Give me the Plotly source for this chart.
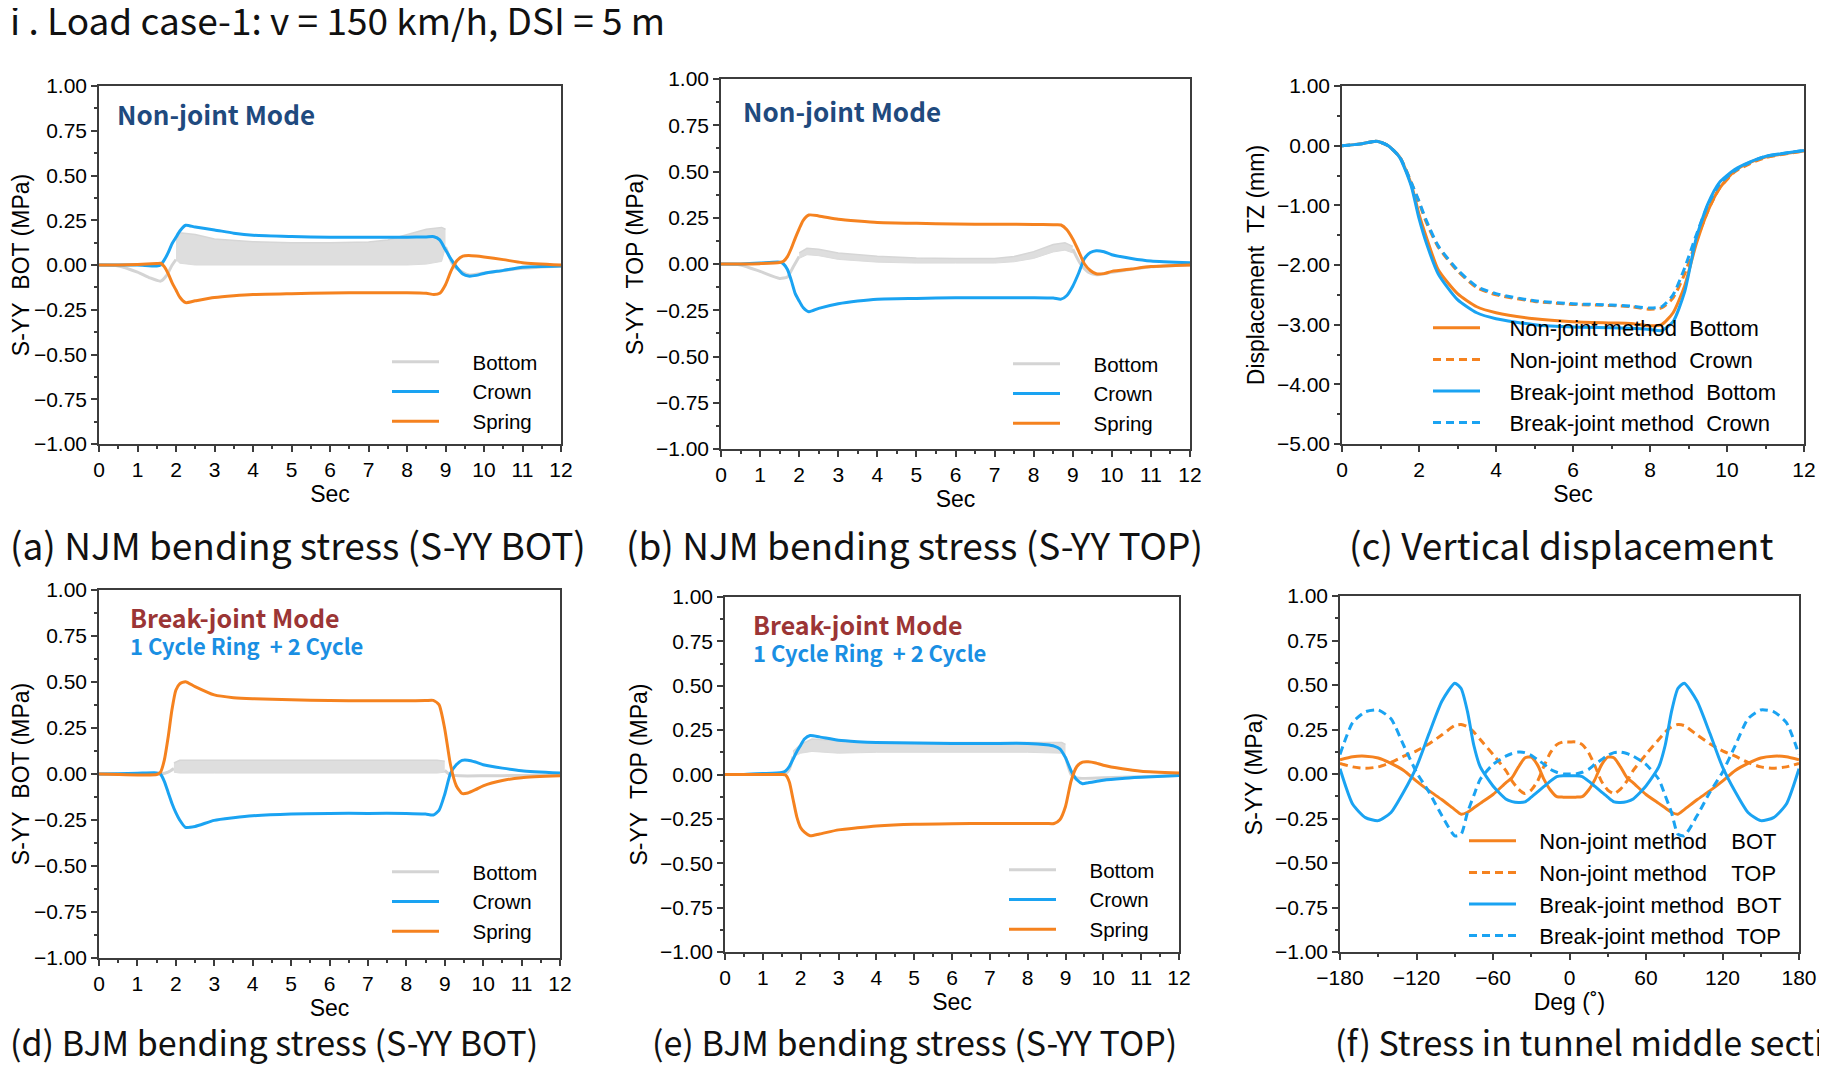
import plotly.graph_objects as go
from plotly.subplots import make_subplots

W, H = 1827, 1077
OFF = 8                      # page body margin of the browser
FW, FH = W - 2 * OFF, H - 2 * OFF

BLUE = '#1AA3F2'
ORANGE = '#F5821F'
GRAY = '#D4D4D4'
AXC = '#3c3c3c'
TICKFONT = 'Liberation Sans, Arial, sans-serif'
KFONT = 'Noto Sans CJK KR, Noto Sans, sans-serif'

# ---- stress panels (a, b, d, e): common time grid ----
T_S = [0, 0.5, 1.0, 1.5, 1.6, 1.7, 1.8, 1.9, 2.0, 2.1, 2.25, 2.5, 3.0, 3.5, 4.0, 5.0,
       6.0, 7.0, 8.0, 8.5, 8.7, 8.85, 9.0, 9.15, 9.3, 9.45, 9.6, 9.8, 10.0, 10.5, 11.0, 12.0]

a_crown = [0, 0, 0, -0.005, 0.0, 0.03, 0.07, 0.12, 0.155, 0.19, 0.222, 0.212, 0.196, 0.178, 0.166, 0.159,
           0.155, 0.155, 0.155, 0.157, 0.158, 0.14, 0.085, 0.03, -0.015, -0.05, -0.062, -0.058, -0.047, -0.03, -0.012, -0.005]
a_spring = [0, 0.0, 0.003, 0.008, 0.01, -0.01, -0.05, -0.1, -0.14, -0.18, -0.21, -0.2, -0.182, -0.172, -0.165, -0.16,
            -0.156, -0.155, -0.155, -0.158, -0.165, -0.158, -0.11, -0.03, 0.025, 0.05, 0.053, 0.05, 0.045, 0.03, 0.013, 0.0]
a_bot_pre_t = [0, 0.5, 1.0, 1.3, 1.6, 1.75, 1.9, 2.0]
a_bot_pre = [0, -0.005, -0.04, -0.07, -0.09, -0.06, 0.0, 0.03]
a_band_t = [2.0, 2.1, 2.5, 3.0, 4.0, 5.0, 6.0, 7.0, 7.5, 8.0, 8.5, 8.9, 9.0]
a_band_hi = [0.14, 0.18, 0.17, 0.145, 0.13, 0.125, 0.125, 0.128, 0.14, 0.17, 0.2, 0.21, 0.2]
a_band_lo = [0.03, 0.01, 0.0, 0.0, 0.0, 0.0, 0.0, 0.0, 0.0, 0.0, 0.005, 0.02, 0.1]
a_bot_post_t = [9.0, 9.2, 9.4, 9.6, 10.0, 11.0, 12.0]
a_bot_post = [0.1, 0.0, -0.035, -0.055, -0.045, -0.018, -0.005]

b_crown = [0, 0, 0.005, 0.01, 0.0, -0.03, -0.09, -0.16, -0.2, -0.235, -0.258, -0.24, -0.215, -0.2, -0.19, -0.186,
           -0.183, -0.182, -0.182, -0.184, -0.19, -0.17, -0.12, -0.05, 0.03, 0.062, 0.072, 0.066, 0.05, 0.03, 0.016, 0.007]
b_spring = [0, 0, 0.002, 0.008, 0.015, 0.04, 0.085, 0.14, 0.19, 0.235, 0.265, 0.26, 0.242, 0.232, 0.224, 0.22,
            0.216, 0.215, 0.214, 0.212, 0.211, 0.185, 0.135, 0.07, 0.0, -0.035, -0.053, -0.052, -0.04, -0.027, -0.014, -0.005]
b_bot_pre_t = [0, 0.5, 1.0, 1.5, 1.7, 1.85, 2.0]
b_bot_pre = [0, -0.005, -0.04, -0.078, -0.07, -0.015, 0.04]
b_band_t = [2.0, 2.2, 2.5, 3.0, 4.0, 5.0, 6.0, 7.0, 7.5, 8.0, 8.5, 8.8, 9.0]
b_band_hi = [0.06, 0.085, 0.08, 0.06, 0.042, 0.033, 0.03, 0.03, 0.04, 0.067, 0.105, 0.115, 0.095]
b_band_lo = [0.03, 0.05, 0.045, 0.025, 0.01, 0.005, 0.005, 0.005, 0.012, 0.03, 0.065, 0.075, 0.06]
b_bot_post_t = [9.0, 9.2, 9.4, 9.6, 10.0, 11.0, 12.0]
b_bot_post = [0.08, 0.0, -0.045, -0.058, -0.045, -0.015, -0.005]

d_crown = [0, 0.002, 0.004, 0.006, 0.0, -0.04, -0.1, -0.16, -0.21, -0.25, -0.29, -0.285, -0.252, -0.238, -0.227, -0.217,
           -0.214, -0.214, -0.214, -0.218, -0.223, -0.198, -0.11, 0.003, 0.05, 0.074, 0.075, 0.065, 0.05, 0.032, 0.018, 0.005]
d_spring = [0, -0.003, -0.005, -0.003, 0.01, 0.075, 0.2, 0.35, 0.455, 0.49, 0.502, 0.475, 0.43, 0.415, 0.409, 0.404,
            0.399, 0.398, 0.398, 0.399, 0.4, 0.377, 0.245, 0.05, -0.064, -0.106, -0.103, -0.085, -0.064, -0.035, -0.02, -0.01]
d_bot_pre_t = [0, 1.0, 1.6, 1.8, 1.95]
d_bot_pre = [0, 0, 0.0, 0.01, 0.03]
d_band_t = [1.95, 2.1, 3.0, 4.0, 5.0, 6.0, 7.0, 8.0, 8.8, 9.0]
d_band_hi = [0.06, 0.075, 0.075, 0.075, 0.075, 0.075, 0.075, 0.075, 0.075, 0.07]
d_band_lo = [0.01, 0.005, 0.005, 0.005, 0.005, 0.005, 0.005, 0.005, 0.005, 0.01]
d_bot_post_t = [9.0, 9.15, 9.4, 10.0, 11.0, 12.0]
d_bot_post = [0.02, -0.005, -0.01, -0.01, -0.008, -0.005]

e_crown = [0, 0, 0.005, 0.012, 0.02, 0.045, 0.087, 0.13, 0.165, 0.2, 0.22, 0.212, 0.193, 0.185, 0.18, 0.177,
           0.175, 0.175, 0.175, 0.167, 0.16, 0.145, 0.095, 0.02, -0.03, -0.052, -0.046, -0.04, -0.032, -0.022, -0.016, -0.006]
e_spring = [0, 0, 0, 0, -0.003, -0.042, -0.141, -0.24, -0.3, -0.325, -0.345, -0.335, -0.312, -0.3, -0.29, -0.28,
            -0.277, -0.276, -0.276, -0.276, -0.276, -0.255, -0.18, -0.035, 0.045, 0.07, 0.072, 0.065, 0.052, 0.032, 0.018, 0.008]
e_bot_pre_t = [0, 1.0, 1.6, 1.7, 1.8]
e_bot_pre = [0, 0, 0.005, 0.03, 0.1]
e_band_t = [1.8, 2.0, 2.3, 3.0, 4.0, 5.0, 6.0, 7.0, 8.0, 8.9, 9.0]
e_band_hi = [0.13, 0.17, 0.2, 0.19, 0.18, 0.18, 0.18, 0.18, 0.18, 0.18, 0.17]
e_band_lo = [0.1, 0.12, 0.13, 0.12, 0.125, 0.125, 0.125, 0.125, 0.125, 0.12, 0.1]
e_bot_post_t = [9.0, 9.15, 9.3, 10.0, 11.0, 12.0]
e_bot_post = [0.1, 0.0, -0.02, -0.018, -0.012, -0.005]

# ---- (c) vertical displacement ----
T_C = [0, 0.5, 0.9, 1.2, 1.5, 1.8, 2.0, 2.2, 2.5, 3.0, 3.5, 4.0, 5.0, 6.0, 7.0, 7.5, 8.0, 8.3, 8.6,
       8.9, 9.2, 9.5, 9.8, 10.2, 10.6, 11.0, 12.0]
c_njm_bot = [0, 0.03, 0.075, 0.0, -0.19, -0.65, -1.15, -1.55, -2.08, -2.48, -2.7, -2.8, -2.9, -2.95, -2.97, -2.98,
             -3.02, -3.0, -2.8, -2.35, -1.65, -1.1, -0.72, -0.42, -0.28, -0.19, -0.09]
c_njm_crown = [0, 0.03, 0.075, 0.0, -0.19, -0.62, -0.95, -1.3, -1.7, -2.1, -2.38, -2.5, -2.61, -2.66, -2.68, -2.7,
               -2.74, -2.72, -2.55, -2.15, -1.6, -1.1, -0.72, -0.44, -0.3, -0.2, -0.09]
c_bjm_bot = [0, 0.03, 0.075, 0.0, -0.2, -0.68, -1.22, -1.65, -2.15, -2.58, -2.8, -2.9, -3.0, -3.04, -3.05, -3.06,
             -3.08, -3.1, -2.95, -2.45, -1.55, -0.98, -0.62, -0.4, -0.27, -0.18, -0.08]
c_bjm_crown = [0, 0.03, 0.075, 0.0, -0.19, -0.62, -0.93, -1.27, -1.68, -2.08, -2.36, -2.48, -2.6, -2.65, -2.67, -2.69,
               -2.72, -2.7, -2.5, -2.05, -1.5, -1.0, -0.65, -0.42, -0.28, -0.18, -0.08]

# ---- (f) stress around the middle section ----
DEG = [-180, -170, -160, -150, -140, -130, -120, -110, -100, -90, -85, -80, -75, -70, -60, -50, -45, -40, -35,
       -30, -25, -20, -15, -10, -5, 0, 5, 10, 15, 20, 25, 30, 35, 40, 45, 50, 60, 70, 75, 80, 85, 90, 100,
       110, 120, 130, 140, 150, 160, 170, 180]
f_njm_bot = [0.08, 0.097, 0.10, 0.09, 0.06, 0.02, -0.04, -0.095, -0.145, -0.2, -0.226, -0.215, -0.19, -0.165, -0.115,
             -0.05, -0.02, 0.04, 0.09, 0.095, 0.05, -0.03, -0.09, -0.127, -0.13, -0.13, -0.13, -0.127, -0.09, -0.03,
             0.05, 0.095, 0.09, 0.04, -0.02, -0.05, -0.115, -0.165, -0.19, -0.215, -0.226, -0.2, -0.145, -0.095,
             -0.04, 0.02, 0.06, 0.09, 0.10, 0.097, 0.08]
f_njm_top = [0.06, 0.04, 0.032, 0.04, 0.065, 0.1, 0.13, 0.17, 0.22, 0.272, 0.278, 0.265, 0.235, 0.194, 0.11, 0.02,
             -0.04, -0.085, -0.11, -0.09, -0.04, 0.045, 0.12, 0.165, 0.18, 0.18, 0.18, 0.165, 0.12, 0.045, -0.04,
             -0.09, -0.11, -0.085, -0.04, 0.02, 0.11, 0.194, 0.235, 0.265, 0.278, 0.272, 0.22, 0.17, 0.13, 0.1,
             0.065, 0.04, 0.032, 0.04, 0.06]
f_bjm_bot = [0.03, -0.17, -0.245, -0.262, -0.216, -0.1, 0.04, 0.23, 0.41, 0.51, 0.48, 0.35, 0.16, 0.04, -0.067,
             -0.14, -0.155, -0.16, -0.157, -0.13, -0.1, -0.07, -0.04, -0.015, -0.01, -0.01, -0.01, -0.015, -0.04,
             -0.07, -0.1, -0.13, -0.157, -0.16, -0.155, -0.14, -0.067, 0.04, 0.16, 0.35, 0.48, 0.51, 0.41, 0.23,
             0.04, -0.1, -0.216, -0.262, -0.245, -0.17, 0.03]
f_bjm_top = [0.11, 0.29, 0.35, 0.36, 0.31, 0.16, 0.01, -0.104, -0.235, -0.347, -0.338, -0.216, -0.12, -0.03, 0.054,
             0.1, 0.115, 0.123, 0.12, 0.105, 0.08, 0.055, 0.026, 0.01, 0.0, 0.0, 0.0, 0.01, 0.026, 0.055, 0.08,
             0.105, 0.12, 0.123, 0.115, 0.1, 0.054, -0.03, -0.12, -0.216, -0.338, -0.347, -0.235, -0.104, 0.01,
             0.16, 0.31, 0.36, 0.35, 0.29, 0.11]

captions = ['(a) NJM bending stress (S-YY BOT)', '(b) NJM bending stress (S-YY TOP)', '(c) Vertical displacement',
            '(d) BJM bending stress (S-YY BOT)', '(e) BJM bending stress (S-YY TOP)', '(f) Stress in tunnel middle section']

NB = '\u00a0'


def px(x):
    return (x - OFF) / FW


def py(y):
    return 1 - (y - OFF) / FH


fig = make_subplots(rows=2, cols=3)


def line(x, y, color, name, legend, show=True, dash=None, width=3):
    return go.Scatter(x=x, y=y, mode='lines', name=name, legend=legend, showlegend=show,
                      line=dict(color=color, width=width, dash=dash, shape='spline', smoothing=0.6),
                      hoverinfo='skip')


def stress_panel(row, col, legend, crown, spring, pre_t, pre, band_t, lo, hi, post_t, post):
    pad = NB * 5
    fig.add_trace(line(pre_t, pre, GRAY, pad + 'Bottom', legend), row=row, col=col)
    fig.add_trace(go.Scatter(x=band_t, y=lo, mode='lines', line=dict(color='#DCDCDC', width=1), showlegend=False,
                             legend=legend, hoverinfo='skip'), row=row, col=col)
    fig.add_trace(go.Scatter(x=band_t, y=hi, mode='lines', line=dict(color='#D6D6D6', width=1.5), fill='tonexty',
                             fillcolor='#DEDEDE', showlegend=False, legend=legend, hoverinfo='skip'), row=row, col=col)
    fig.add_trace(line(post_t, post, GRAY, 'Bottom', legend, show=False), row=row, col=col)
    fig.add_trace(line(T_S, crown, BLUE, pad + 'Crown', legend), row=row, col=col)
    fig.add_trace(line(T_S, spring, ORANGE, pad + 'Spring', legend), row=row, col=col)


stress_panel(1, 1, 'legend', a_crown, a_spring, a_bot_pre_t, a_bot_pre, a_band_t, a_band_lo, a_band_hi, a_bot_post_t, a_bot_post)
stress_panel(1, 2, 'legend2', b_crown, b_spring, b_bot_pre_t, b_bot_pre, b_band_t, b_band_lo, b_band_hi, b_bot_post_t, b_bot_post)
stress_panel(2, 1, 'legend4', d_crown, d_spring, d_bot_pre_t, d_bot_pre, d_band_t, d_band_lo, d_band_hi, d_bot_post_t, d_bot_post)
stress_panel(2, 2, 'legend5', e_crown, e_spring, e_bot_pre_t, e_bot_pre, e_band_t, e_band_lo, e_band_hi, e_bot_post_t, e_bot_post)

cpad = NB * 4
fig.add_trace(line(T_C, c_njm_bot, ORANGE, cpad + 'Non-joint method' + NB * 2 + 'Bottom', 'legend3'), row=1, col=3)
fig.add_trace(line(T_C, c_njm_crown, ORANGE, cpad + 'Non-joint method' + NB * 2 + 'Crown', 'legend3', dash='8px,5px'), row=1, col=3)
fig.add_trace(line(T_C, c_bjm_bot, BLUE, cpad + 'Break-joint method' + NB * 2 + 'Bottom', 'legend3'), row=1, col=3)
fig.add_trace(line(T_C, c_bjm_crown, BLUE, cpad + 'Break-joint method' + NB * 2 + 'Crown', 'legend3', dash='8px,5px'), row=1, col=3)

fpad = NB * 3
fig.add_trace(line(DEG, f_njm_bot, ORANGE, fpad + 'Non-joint method' + NB * 4 + 'BOT', 'legend6'), row=2, col=3)
fig.add_trace(line(DEG, f_njm_top, ORANGE, fpad + 'Non-joint method' + NB * 4 + 'TOP', 'legend6', dash='8px,5px'), row=2, col=3)
fig.add_trace(line(DEG, f_bjm_bot, BLUE, fpad + 'Break-joint method' + NB * 2 + 'BOT', 'legend6'), row=2, col=3)
fig.add_trace(line(DEG, f_bjm_top, BLUE, fpad + 'Break-joint method' + NB * 2 + 'TOP', 'legend6', dash='8px,5px'), row=2, col=3)

# plot boxes in reference pixels: left, right, top, bottom
boxes = {1: (99, 561, 86, 444), 2: (721, 1190, 79, 449), 3: (1342, 1804, 86, 444),
         4: (99, 560, 590, 958), 5: (725, 1179, 597, 952), 6: (1340, 1799, 596, 952)}

ax = dict(showline=True, linecolor=AXC, linewidth=1.5, mirror=True, ticks='outside', ticklen=6,
          tickwidth=1.5, tickcolor=AXC, showgrid=False, zeroline=False, automargin=False,
          ticklabeloverflow='allow',
          tickfont=dict(family=TICKFONT, size=21, color='black'),
          title_font=dict(family=TICKFONT, size=23, color='black'))

ytitles = ['S-YY' + NB * 2 + 'BOT (MPa)', 'S-YY' + NB * 2 + 'TOP (MPa)', 'Displacement' + NB * 2 + 'TZ (mm)',
           'S-YY' + NB * 2 + 'BOT (MPa)', 'S-YY' + NB * 2 + 'TOP (MPa)', 'S-YY (MPa)']

for i, (l, r, t, b) in boxes.items():
    k = '' if i == 1 else str(i)
    if i == 3:
        xr, xd, xm, yr, yd, ym, xt = [0, 12], 2, 1, [-5, 1], 1, 0.5, 'Sec'
    elif i == 6:
        xr, xd, xm, yr, yd, ym, xt = [-180, 180], 60, 30, [-1, 1], 0.25, 0.125, 'Deg (˚)'
    else:
        xr, xd, xm, yr, yd, ym, xt = [0, 12], 1, 0.5, [-1, 1], 0.25, 0.125, 'Sec'
    fig.layout['xaxis' + k].update(ax, domain=[px(l), px(r)], range=xr, dtick=xd, tick0=xr[0],
                                   minor=dict(ticks='outside', ticklen=3, tickcolor=AXC, dtick=xm, tick0=xr[0]),
                                   title=dict(text=xt, standoff=4 if i <= 3 else 0))
    fig.layout['yaxis' + k].update(ax, domain=[py(b), py(t)], range=yr, dtick=yd, tick0=yr[0],
                                   tickformat='.2f',
                                   minor=dict(ticks='outside', ticklen=3, tickcolor=AXC, dtick=ym, tick0=yr[0]),
                                   title=dict(text=ytitles[i - 1], standoff=6))
    # inward ticks on the top and right frame
    sx, sy = 'x' + k, 'y' + k
    fig.layout['xaxis' + str(6 + i)] = dict(overlaying=sx, anchor=sy, side='top', range=xr, dtick=xd, tick0=xr[0],
                                            ticks='inside', ticklen=6, tickwidth=1.5, tickcolor=AXC,
                                            showticklabels=False, showgrid=False, zeroline=False, showline=False,
                                            automargin=False,
                                            minor=dict(ticks='inside', ticklen=3, tickcolor=AXC, dtick=xm, tick0=xr[0]))
    fig.layout['yaxis' + str(6 + i)] = dict(overlaying=sy, anchor=sx, side='right', range=yr, dtick=yd, tick0=yr[0],
                                            ticks='inside', ticklen=6, tickwidth=1.5, tickcolor=AXC,
                                            showticklabels=False, showgrid=False, zeroline=False, showline=False,
                                            automargin=False,
                                            minor=dict(ticks='inside', ticklen=3, tickcolor=AXC, dtick=ym, tick0=yr[0]))

leg = dict(bgcolor='rgba(0,0,0,0)', xanchor='left', yanchor='top', tracegroupgap=0, traceorder='normal')
legend_px = {'legend': (387, 342, 47, 20.5), 'legend2': (1008, 344, 47, 20.5), 'legend3': (1428, 307, 47, 22),
             'legend4': (387, 852, 47, 20.5), 'legend5': (1004, 850, 47, 20.5), 'legend6': (1464, 820, 47, 22)}
for name, (lx, ly, iw, fs) in legend_px.items():
    fig.layout[name] = dict(leg, x=px(lx), y=py(ly), itemwidth=iw,
                            font=dict(family=TICKFONT, size=fs, color='black'))

annotations = []
cap_px = [(8, 544, 'left', 37), (915, 544, 'center', 37), (1561, 544, 'center', 37),
          (8, 1041, 'left', 34), (915, 1041, 'center', 34), (1600, 1041, 'center', 34)]
for text, (cx, cy, anc, fs) in zip(captions, cap_px):
    annotations.append(dict(text=text, x=px(cx), y=py(cy), xref='paper', yref='paper', showarrow=False,
                            xanchor=anc, yanchor='middle', font=dict(family=KFONT, size=fs, color='#111111')))

annotations.append(dict(text='i . Load case-1: v = 150 km/h, DSI = 5 m', x=px(8), y=py(19), xref='paper',
                        yref='paper', showarrow=False, xanchor='left', yanchor='middle',
                        font=dict(family=KFONT, size=37, color='#111111')))

NJ = '#1F4A7E'
BJ = '#9B3535'
CY = '#1A8FE3'
for mx, my in [(115, 114), (741, 111)]:
    annotations.append(dict(text='<b>Non-joint Mode</b>', x=px(mx), y=py(my), xref='paper', yref='paper',
                            showarrow=False, xanchor='left', yanchor='middle',
                            font=dict(family=KFONT, size=26, color=NJ)))
bj_text = ('<b><span style="color:%s;font-size:25px">Break-joint Mode</span><br>'
           '<span style="color:%s;font-size:22px">1 Cycle Ring' % (BJ, CY) + NB * 2 + '+ 2 Cycle</span></b>')
for mx, my in [(128, 597), (751, 604)]:
    annotations.append(dict(text=bj_text, x=px(mx), y=py(my), xref='paper', yref='paper', showarrow=False,
                            xanchor='left', yanchor='top', align='left',
                            font=dict(family=KFONT, size=21, color=BJ)))

fig.update_layout(width=FW, height=FH, margin=dict(l=0, r=0, t=0, b=0), paper_bgcolor='white',
                  plot_bgcolor='white', annotations=annotations)

fig.write_html("out.html")
